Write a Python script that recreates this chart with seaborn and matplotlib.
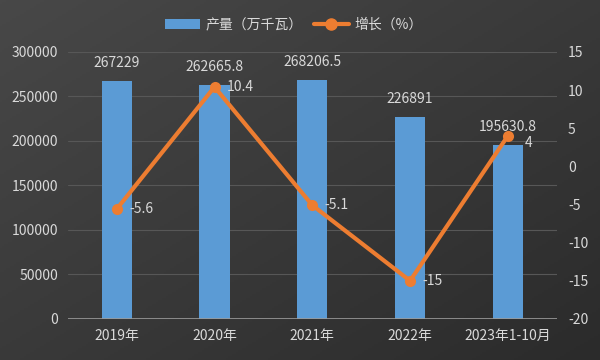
import matplotlib
matplotlib.use("Agg")
import matplotlib.pyplot as plt
import seaborn as sns
import numpy as np
import pandas as pd
from matplotlib.patches import Patch
from matplotlib.lines import Line2D
from matplotlib.colors import LinearSegmentedColormap

categories = ["2019年", "2020年", "2021年", "2022年", "2023年1-10月"]
output = [267229, 262665.8, 268206.5, 226891, 195630.8]
growth = [-5.6, 10.4, -5.1, -15, 4]
output_labels = ["267229", "262665.8", "268206.5", "226891", "195630.8"]
growth_labels = ["-5.6", "10.4", "-5.1", "-15", "4"]
left_ticks = [0, 50000, 100000, 150000, 200000, 250000, 300000]
right_ticks = [-20, -15, -10, -5, 0, 5, 10, 15]

sns.set_theme(style="dark")
plt.rcParams['font.family'] = ['Noto Sans CJK SC', 'DejaVu Sans']

df = pd.DataFrame({"cat": categories, "output": output, "growth": growth})

fig = plt.figure(figsize=(6, 3.6), dpi=100)
# gradient background
bg = fig.add_axes([0, 0, 1, 1], zorder=-10)
yy, xx = np.mgrid[0:1:180j, 0:1:300j]
grad = (xx * 0.5 + yy * 0.5)
cmap = LinearSegmentedColormap.from_list("bg", ["#484848", "#2b2b2b"])
bg.imshow(grad, cmap=cmap, aspect="auto", extent=[0, 1, 0, 1], origin="upper")
bg.axis("off")

ax = fig.add_axes([0.113, 0.114, 0.815, 0.742])
ax.patch.set_alpha(0)

txtc = "#d9d9d9"
sns.barplot(data=df, x="cat", y="output", ax=ax, color="#5b9bd5", width=0.31,
            saturation=1, zorder=2, legend=False)
for p in ax.patches:
    p.set_edgecolor("none")
ax.set_ylim(0, 300000)
ax.set_yticks(left_ticks)
ax.set_yticklabels([str(t) for t in left_ticks], color=txtc, fontsize=10)
ax.grid(axis="y", color="#575757", linewidth=0.8, zorder=0)
ax.grid(axis="x", visible=False)
for s in ax.spines.values():
    s.set_visible(False)
ax.axhline(0, color="#9a9a9a", linewidth=1.2, zorder=3)
ax.set_xlabel("")
ax.set_ylabel("")
ax.tick_params(axis="x", colors=txtc, labelsize=10, length=0, pad=7)
ax.tick_params(axis="y", length=0, pad=7)
for lab in ax.get_xticklabels():
    lab.set_color(txtc)
ax.set_xlim(-0.5, 4.5)

for i, (v, l) in enumerate(zip(output, output_labels)):
    ax.annotate(l, (i, v), xytext=(0, 13), textcoords="offset points",
                ha="center", va="center", color=txtc, fontsize=10, zorder=5)

ax2 = ax.twinx()
sns.lineplot(x=np.arange(len(categories)), y=growth, ax=ax2, color="#ed7d31",
             linewidth=3, marker="o", markersize=8, markeredgewidth=0, zorder=4)
ax2.set_ylim(-20, 15)
ax2.set_yticks(right_ticks)
ax2.set_yticklabels([str(t) for t in right_ticks], color=txtc, fontsize=10)
ax2.tick_params(axis="y", length=0, pad=8)
ax2.grid(False)
for s in ax2.spines.values():
    s.set_visible(False)
ax2.set_ylabel("")
n = len(growth)
for i, (v, l) in enumerate(zip(growth, growth_labels)):
    off = (12, -5) if i == n - 1 else (9, 0)
    ax2.annotate(l, (i, v), xytext=off, textcoords="offset points",
                 ha="left", va="center", color=txtc, fontsize=10, zorder=6)

handles = [Patch(facecolor="#5b9bd5", edgecolor="none"),
           Line2D([0], [0], color="#ed7d31", linewidth=3, marker="o", markersize=8)]
fig.legend(handles, ["产量（万千瓦）", "增长（%）"], loc="upper center",
           bbox_to_anchor=(0.49, 0.985), ncol=2, frameon=False,
           labelcolor=txtc, fontsize=10, handlelength=2.5, columnspacing=0.8,
           handletextpad=0.4)

fig.savefig("out.png", dpi=100)
